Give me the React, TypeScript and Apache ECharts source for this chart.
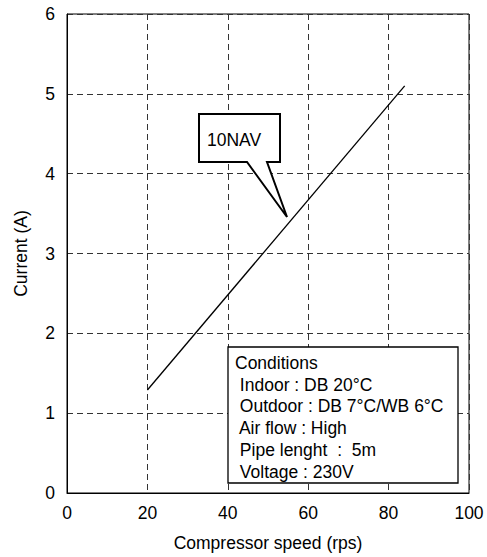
import React, { useEffect, useRef } from "react";
import * as echarts from "echarts";

const speedRps = [20, 84];
const currentA = [1.29, 5.1];
const xTicks = [0, 20, 40, 60, 80, 100];
const yTicks = [0, 1, 2, 3, 4, 5, 6];
const calloutLabel = "10NAV";
const conditionLines = [
  "Conditions",
  " Indoor : DB 20°C",
  " Outdoor : DB 7°C/WB 6°C",
  " Air flow : High",
  " Pipe lenght  :  5m",
  " Voltage : 230V",
];

const FONT = "'Liberation Sans', Arial, sans-serif";
const FS = 17.5;

export default function App() {
  const ref = useRef<HTMLDivElement>(null);
  useEffect(() => {
    if (!ref.current) return;
    const chart = echarts.init(ref.current, undefined, { renderer: "svg" });
    const axisLabel = { color: "#000", fontFamily: FONT, fontSize: FS };
    const split = {
      show: true,
      lineStyle: { color: "#333", type: [6, 4], width: 1 },
    };
    chart.setOption({
      animation: false,
      backgroundColor: "#fff",
      grid: {
        left: 67,
        right: 18,
        top: 14,
        bottom: 62,
        show: true,
        borderColor: "#000",
        borderWidth: 1,
      },
      xAxis: {
        type: "value",
        min: xTicks[0],
        max: xTicks[xTicks.length - 1],
        interval: 20,
        name: "Compressor speed (rps)",
        nameLocation: "middle",
        nameGap: 41,
        nameTextStyle: { color: "#000", fontFamily: FONT, fontSize: FS },
        axisLine: { lineStyle: { color: "#000" } },
        axisTick: { show: false },
        axisLabel: { ...axisLabel, margin: 11 },
        splitLine: split,
      },
      yAxis: {
        type: "value",
        min: yTicks[0],
        max: yTicks[yTicks.length - 1],
        interval: 1,
        name: "Current (A)",
        nameLocation: "middle",
        nameGap: 37,
        nameTextStyle: { color: "#000", fontFamily: FONT, fontSize: FS },
        axisLine: { show: true, lineStyle: { color: "#000" } },
        axisTick: { show: false },
        axisLabel: { ...axisLabel, margin: 12 },
        splitLine: split,
      },
      series: [
        {
          type: "line",
          data: speedRps.map((x, i) => [x, currentA[i]]),
          showSymbol: false,
          lineStyle: { color: "#000", width: 1.3 },
          z: 3,
        },
      ],
      graphic: [
        {
          type: "polygon",
          shape: {
            points: [
              [199, 114],
              [280, 114],
              [280, 162],
              [267, 162],
              [287, 217],
              [247, 162],
              [199, 162],
            ],
          },
          style: { fill: "#fff", stroke: "#000", lineWidth: 2 },
          z: 10,
        },
        {
          type: "text",
          x: 207,
          y: 139.5,
          style: {
            text: calloutLabel,
            font: `${FS}px ${FONT}`,
            fill: "#000",
            verticalAlign: "middle",
          },
          z: 11,
        },
        {
          type: "rect",
          shape: { x: 228, y: 347, width: 230, height: 136 },
          style: { fill: "#fff", stroke: "#000", lineWidth: 1.3 },
          z: 10,
        },
        ...conditionLines.map((t, i) => ({
          type: "text",
          x: 235,
          y: 363 + i * 21.7,
          style: {
            text: t,
            font: `${FS}px ${FONT}`,
            fill: "#000",
            verticalAlign: "middle",
          },
          z: 11,
        })),
      ],
    });
    return () => chart.dispose();
  }, []);
  return (
    <div
      ref={ref}
      style={{ position: "fixed", left: 0, top: 0, width: 487, height: 557 }}
    />
  );
}
